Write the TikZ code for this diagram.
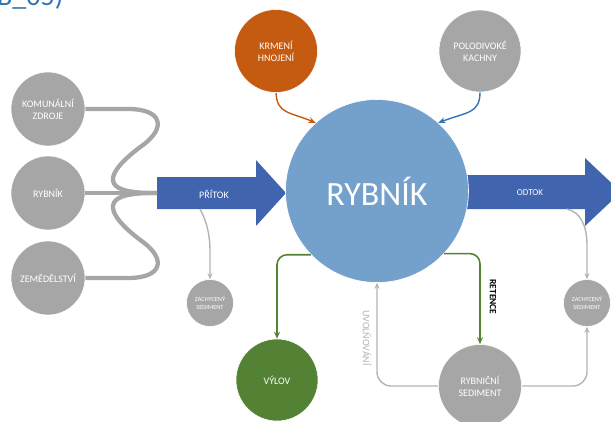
\documentclass[tikz,border=0pt]{standalone}
\usepackage{fontspec}
\setmainfont{Carlito}
\usetikzlibrary{arrows.meta}
\definecolor{cgray}{HTML}{A6A6A6}
\definecolor{lgray}{HTML}{B3B3B3}
\definecolor{mainblue}{HTML}{74A0CC}
\definecolor{arrblue}{HTML}{4065AE}
\definecolor{corange}{HTML}{C55A11}
\definecolor{cblue}{HTML}{2E75B6}
\definecolor{cgreen}{HTML}{548235}
\definecolor{ctitle}{HTML}{2E75B6}
\begin{document}
\begin{tikzpicture}[x=1pt,y=-1pt,
  circ/.style={circle, draw=white, line width=0.6pt, text=white, align=center, inner sep=0pt,
    font=\fontsize{10}{12}\selectfont},
  smallcirc/.style={circ, fill=cgray, minimum size=47pt, font=\fontsize{6.3}{8.5}\selectfont},
  feed/.style={cgray, line width=4.3pt},
  thinarr/.style={lgray, line width=1.4pt, -{Stealth[length=6pt,width=5pt]}},
  garr/.style={cgreen, line width=1.6pt, rounded corners=10pt, -{Stealth[length=7pt,width=6pt]}},
]
\useasboundingbox (0,0) rectangle (611,421);
% title fragment
\node[anchor=base west, inner sep=0pt, text=ctitle, font=\fontsize{28}{28}\selectfont] (title) at (-3,5) {B\_05)};
% big arrows
\fill[arrblue] (157,177) -- (256,177) -- (256,160) -- (286,193) -- (256,226) -- (256,209) -- (157,209) -- cycle;
\fill[arrblue] (462,175) -- (585,175) -- (585,158) -- (621,192) -- (585,226) -- (585,209) -- (462,209) -- cycle;
\coordinate (pin) at (157,193);
\coordinate (pbot) at (200,209);
\coordinate (obot) at (567,209);
\node[text=white, font=\fontsize{10}{10}\selectfont] (pritok) at (214,194) {PŘÍTOK};
\node[text=white, font=\fontsize{9}{10}\selectfont] (odtok) at (530,193) {ODTOK};
% source circles
\node[circ, fill=cgray, minimum size=74pt] (kom) at (48,109) {KOMUNÁLNÍ\\ZDROJE};
\node[circ, fill=cgray, minimum size=74pt] (rsrc) at (48,193) {RYBNÍK};
\node[circ, fill=cgray, minimum size=74pt] (zem) at (48,278) {ZEMĚDĚLSTVÍ};
% feed lines
\draw[feed] (kom.east) -- (128,109) .. controls (163,109) and (166,128) .. (143,145)
  .. controls (118,163) and (98,185) .. (128,191) .. controls (138,193) and (148,193) .. (pin);
\draw[feed] (rsrc.east) -- (pin);
\draw[feed] (zem.east) -- (128,278) .. controls (163,278) and (166,259) .. (143,242)
  .. controls (118,224) and (98,201) .. (128,195) .. controls (138,193) and (148,193) .. (pin);
% main pond
\node[circle, fill=mainblue, draw=white, line width=0.6pt, minimum size=183pt, text=white,
  font=\fontsize{34}{34}\selectfont] (main) at (377,191) {RYBNÍK};
% top circles
\node[circ, fill=corange, minimum size=83pt] (krm) at (276,51) {KRMENÍ\\HNOJENÍ};
\node[circ, fill=cgray, minimum size=82pt] (pol) at (480,51) {POLODIVOKÉ\\KACHNY};
\draw[corange, line width=1.4pt, -{Stealth[length=7pt,width=6pt]}] (krm.south) .. controls (277,114) and (290,112) .. (main.132);
\draw[cblue, line width=1.4pt, -{Stealth[length=7pt,width=6pt]}] (pol.south) .. controls (480,114) and (466,112) .. (main.48);
% sediment circles
\node[smallcirc] (zl) at (210,303) {ZACHYCENÝ\\SEDIMENT};
\node[smallcirc] (zr) at (587,303) {ZACHYCENÝ\\SEDIMENT};
\node[circ, fill=cgreen, minimum size=82pt] (vyl) at (277,380) {VÝLOV};
\node[circ, fill=cgray, minimum size=83pt] (rs) at (480,386) {RYBNIČNÍ\\SEDIMENT};
% thin arrows
\draw[thinarr] (pbot) .. controls (207,222) and (210,235) .. (210,252) -- (zl.north);
\draw[thinarr] (obot) .. controls (580,212) and (587,225) .. (587,245) -- (zr.north);
\draw[garr] (main.224) -| (vyl.north);
\draw[garr] (main.-43) -| (rs.north);
\draw[thinarr, rounded corners=14pt] (rs.west) -| (main.south);
\draw[thinarr, rounded corners=14pt] (rs.east) -| (zr.south);
% labels
\node[rotate=-90, font=\bfseries\fontsize{9.5}{10}\selectfont, text=black] (ret) at (493,297) {RETENCE};
\node[rotate=-90, font=\fontsize{10}{10}\selectfont, text=lgray] (uvo) at (367,338) {UVOLŇOVÁNÍ};
\end{tikzpicture}
\end{document}
